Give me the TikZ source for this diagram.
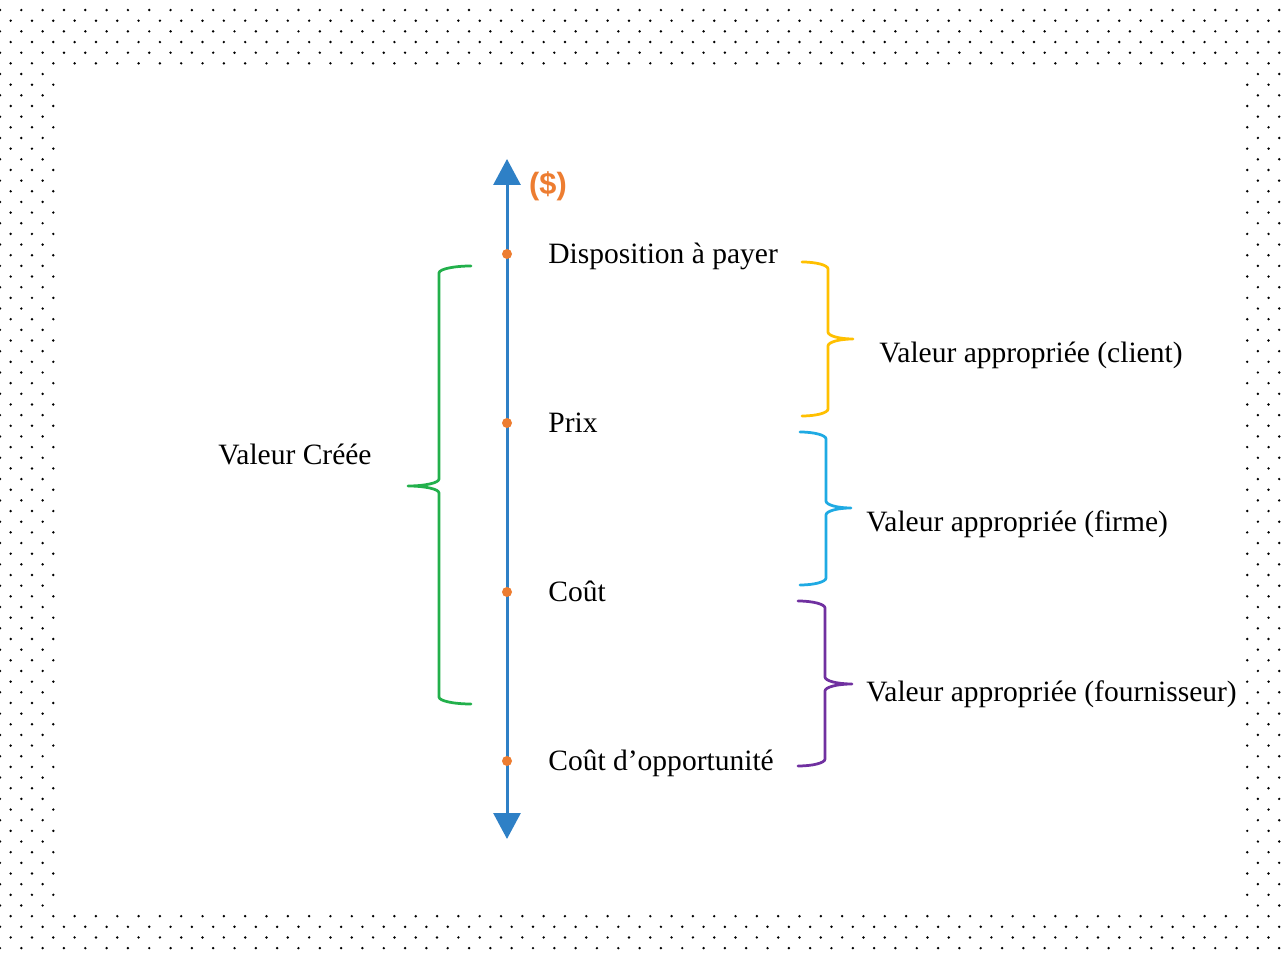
\documentclass[tikz,border=0pt]{standalone}
\usepackage{fontspec}
\setmainfont{Liberation Serif}
\setsansfont{Liberation Sans}
\usetikzlibrary{arrows.meta}
\definecolor{axisblue}{HTML}{2E80C6}
\definecolor{ptorange}{HTML}{ED7D31}
\definecolor{bgreen}{HTML}{22B04B}
\definecolor{byellow}{HTML}{FFC000}
\definecolor{bcyan}{HTML}{1FAAE3}
\definecolor{bpurple}{HTML}{7030A0}
\tikzset{
  lbl/.style={anchor=base west,inner sep=0pt,font=\fontsize{16.8}{20}\selectfont},
  pt/.style={circle,fill=ptorange,inner sep=0pt,minimum size=0.2cm},
  brc/.style={line width=0.055cm,line cap=round,line join=round},
}
\begin{document}
\begin{tikzpicture}[x=0.02cm,y=-0.02cm]
\useasboundingbox (0,0) rectangle (1286,955);
% dotted frame
\foreach \j in {1,...,89}{
  \foreach \i in {0,...,60}{
    \pgfmathsetmacro\dx{10.66*(2*\i+mod(\j+1,2))}
    \fill (\dx,10.66*\j-0.6) circle[radius=0.027cm];
  }
}
\fill[white] (59,69) rectangle (1243,911);
% price axis
\coordinate (bot) at (507,839);
\coordinate (top) at (507,159);
\draw[axisblue,line width=0.06cm,{Triangle[width=0.54cm,length=0.52cm]}-{Triangle[width=0.54cm,length=0.52cm]}] (bot) -- (top);
\node[font=\sffamily\bfseries\fontsize{17.5}{20}\selectfont,text=ptorange] (unit) at (548,186) {(\$)};
\node[pt] (wtp) at (507,254) {};
\node[pt] (price) at (507,423) {};
\node[pt] (cost) at (507,592) {};
\node[pt] (opp) at (507,761) {};
\node[lbl] (wtplbl) at (548,264) {Disposition à payer};
\node[lbl] (pricelbl) at (548,433) {Prix};
\node[lbl] (costlbl) at (548,602) {Coût};
\node[lbl] (opplbl) at (548,771) {Coût d’opportunité};
% braces
\draw[brc,bgreen] (471,266) .. controls (453.4,266) and (439,269.2) .. (439,273) -- (439,479) .. controls (439,482.9) and (425,486) .. (408,486) .. controls (425,486) and (439,489.1) .. (439,493) -- (439,697) .. controls (439,700.9) and (453.4,704) .. (471,704);
\node[lbl] (created) at (218,465) {Valeur Créée};
\draw[brc,byellow] (802,262) .. controls (816.3,262) and (828,265.2) .. (828,269) -- (828,332) .. controls (828,335.9) and (839.3,339) .. (853,339) .. controls (839.3,339) and (828,342.1) .. (828,346) -- (828,409) .. controls (828,412.9) and (816.3,416) .. (802,416);
\node[lbl] (client) at (879,363) {Valeur appropriée (client)};
\draw[brc,bcyan] (800,432) .. controls (814.3,432) and (826,435.2) .. (826,439) -- (826,501) .. controls (826,504.9) and (837.3,508) .. (851,508) .. controls (837.3,508) and (826,511.1) .. (826,515) -- (826,578) .. controls (826,581.9) and (814.3,585) .. (800,585);
\node[lbl] (firm) at (866,532) {Valeur appropriée (firme)};
\draw[brc,bpurple] (798,601) .. controls (813,601) and (825,604.2) .. (825,608) -- (825,677) .. controls (825,680.9) and (837.2,684) .. (852,684) .. controls (837.2,684) and (825,687.1) .. (825,691) -- (825,759) .. controls (825,762.9) and (813,766) .. (798,766);
\node[lbl] (supplier) at (866,702) {Valeur appropriée (fournisseur)};
\end{tikzpicture}
\end{document}
